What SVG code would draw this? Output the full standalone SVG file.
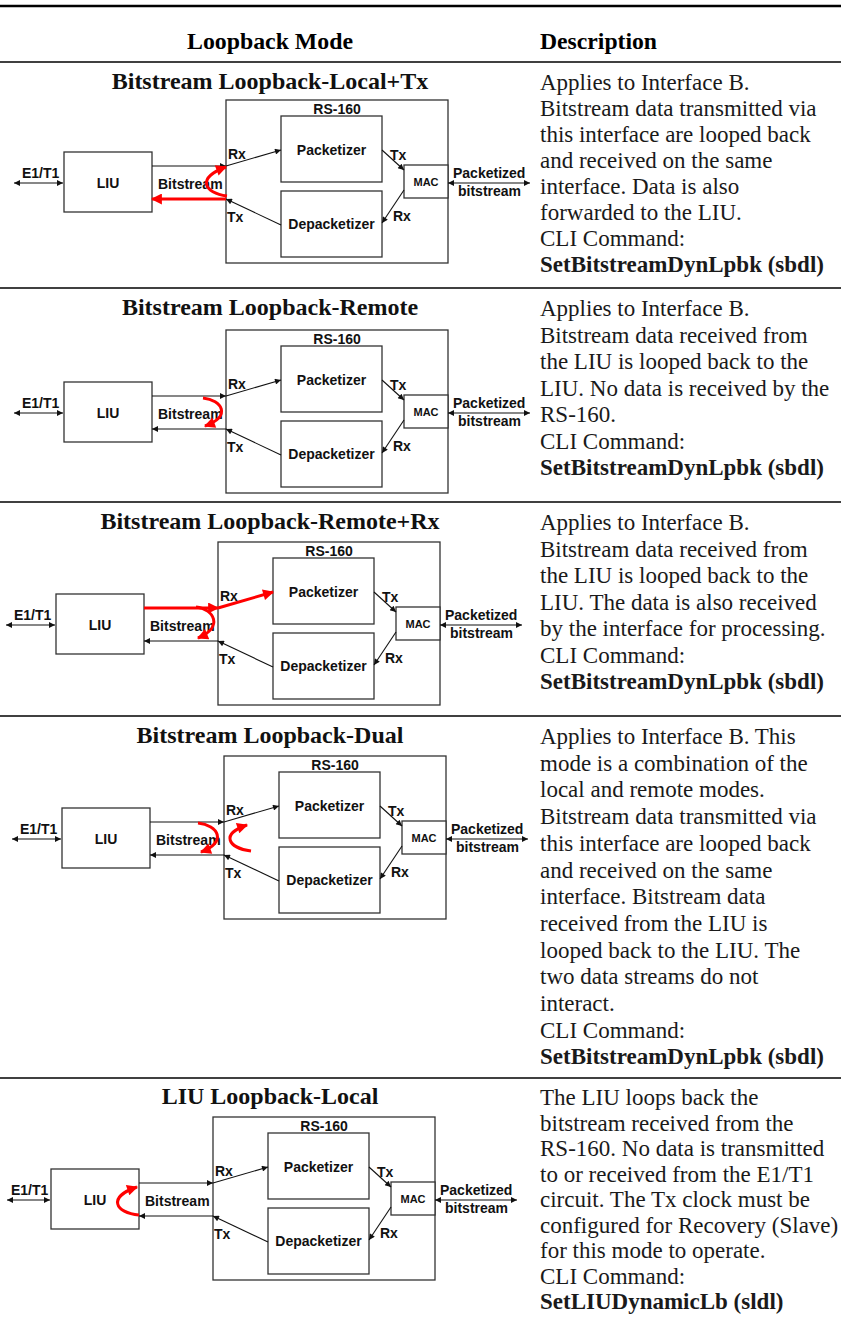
<svg xmlns="http://www.w3.org/2000/svg" width="841" height="1326" viewBox="0 0 841 1326">
<defs>
<style>
.rule{stroke:#000;stroke-width:1.5}
.rule-top{stroke:#000;stroke-width:2.5}
.hdr{font-family:"Liberation Serif","Times New Roman",serif;font-weight:bold;font-size:24px;fill:#000}
.ttl{font-family:"Liberation Serif","Times New Roman",serif;font-weight:bold;font-size:24px;fill:#111;text-anchor:middle}
.desc{font-family:"Liberation Serif","Times New Roman",serif;font-size:23px;fill:#1a1a1a}
.cmd{font-weight:bold}
.box{fill:#fff;stroke:#333;stroke-width:1.3}
.lbl{font-family:"Liberation Sans",Arial,sans-serif;font-weight:bold;font-size:14px;fill:#111}
.mid{text-anchor:middle}
.mac{font-size:11px}
.conn{stroke:#111;stroke-width:1.1;fill:none}
.red{stroke:#f00;stroke-width:3;fill:none}
</style>
<marker id="ah" viewBox="0 0 10 10" refX="10" refY="5" markerWidth="8" markerHeight="6" markerUnits="userSpaceOnUse" orient="auto-start-reverse"><path d="M0,0 L10,5 L0,10 z" fill="#111"/></marker>
<marker id="rah" viewBox="0 0 10 10" refX="9" refY="5" markerWidth="15" markerHeight="11" markerUnits="userSpaceOnUse" orient="auto"><path d="M0,0 L10,5 L0,10 z" fill="#f00"/></marker>
</defs>
<rect width="841" height="1326" fill="#fff"/>

<g id="table-rules">
<line class="rule-top" x1="0" y1="6" x2="841" y2="6"/>
<line class="rule" x1="0" y1="62" x2="841" y2="62"/>
<line class="rule" x1="0" y1="288" x2="841" y2="288"/>
<line class="rule" x1="0" y1="502" x2="841" y2="502"/>
<line class="rule" x1="0" y1="716" x2="841" y2="716"/>
<line class="rule" x1="0" y1="1078" x2="841" y2="1078"/>
</g>
<g id="header">
<text class="hdr" x="187" y="49" textLength="166" lengthAdjust="spacingAndGlyphs">Loopback Mode</text>
<text class="hdr" x="540" y="49" textLength="117" lengthAdjust="spacingAndGlyphs">Description</text>
</g>

<!-- Row 1 -->
<g id="row1">
<text class="ttl" x="270" y="89">Bitstream Loopback-Local+Tx</text>
<g id="row1-diagram">
 <g id="r1-liu"><rect class="box" x="64" y="152" width="88" height="60"/><text class="lbl mid" x="108" y="188">LIU</text></g>
 <g id="r1-rs160"><rect class="box" x="226" y="100" width="222" height="163"/><text class="lbl mid" x="337" y="114">RS-160</text></g>
 <g id="r1-packetizer"><rect class="box" x="281" y="116" width="101" height="66"/><text class="lbl mid" x="331.5" y="155">Packetizer</text></g>
 <g id="r1-depacketizer"><rect class="box" x="281" y="191" width="101" height="66"/><text class="lbl mid" x="331.5" y="229">Depacketizer</text></g>
 <g id="r1-mac"><rect class="box" x="404" y="165" width="44" height="33"/><text class="lbl mac mid" x="426" y="185.5">MAC</text></g>
 <g id="r1-connectors">
  <line class="conn" x1="14" y1="183" x2="63" y2="183" marker-start="url(#ah)" marker-end="url(#ah)"/>
  <text class="lbl" x="22" y="178">E1/T1</text>
  <line class="conn" x1="152" y1="166" x2="226" y2="166" marker-end="url(#ah)"/>
  <line class="conn" x1="226" y1="166" x2="281" y2="150" marker-end="url(#ah)"/>
  <line class="conn" x1="382" y1="150" x2="404" y2="170" marker-end="url(#ah)"/>
  <line class="conn" x1="404" y1="190" x2="382" y2="223" marker-end="url(#ah)"/>
  <line class="conn" x1="281" y1="225" x2="226" y2="199" marker-end="url(#ah)"/>
  <line class="conn" x1="448" y1="183" x2="530" y2="183" marker-start="url(#ah)" marker-end="url(#ah)"/>
  <text class="lbl" x="158" y="189">Bitstream</text>
  <text class="lbl" x="228" y="159">Rx</text>
  <text class="lbl" x="227" y="222">Tx</text>
  <text class="lbl" x="390" y="160">Tx</text>
  <text class="lbl" x="393" y="221">Rx</text>
  <text class="lbl" x="453" y="178">Packetized</text>
  <text class="lbl" x="458" y="195.5">bitstream</text>
  <line class="red" x1="226" y1="199" x2="152" y2="199" marker-end="url(#rah)"/>
  <path class="red" d="M227,196 C204,193 196,178 226,167" marker-end="url(#rah)"/>
 </g>
</g>
<text class="desc" x="540" y="90">Applies to Interface B.<tspan x="540" dy="26">Bitstream data transmitted via</tspan><tspan x="540" dy="26">this interface are looped back</tspan><tspan x="540" dy="26">and received on the same</tspan><tspan x="540" dy="26">interface. Data is also</tspan><tspan x="540" dy="26">forwarded to the LIU.</tspan><tspan x="540" dy="26">CLI Command:</tspan><tspan class="cmd" x="540" dy="26">SetBitstreamDynLpbk (sbdl)</tspan></text>
</g>

<!-- Row 2 -->
<g id="row2">
<text class="ttl" x="270" y="315">Bitstream Loopback-Remote</text>
<g id="row2-diagram" transform="translate(0,230)">
 <g id="r2-liu"><rect class="box" x="64" y="152" width="88" height="60"/><text class="lbl mid" x="108" y="188">LIU</text></g>
 <g id="r2-rs160"><rect class="box" x="226" y="100" width="222" height="163"/><text class="lbl mid" x="337" y="114">RS-160</text></g>
 <g id="r2-packetizer"><rect class="box" x="281" y="116" width="101" height="66"/><text class="lbl mid" x="331.5" y="155">Packetizer</text></g>
 <g id="r2-depacketizer"><rect class="box" x="281" y="191" width="101" height="66"/><text class="lbl mid" x="331.5" y="229">Depacketizer</text></g>
 <g id="r2-mac"><rect class="box" x="404" y="165" width="44" height="33"/><text class="lbl mac mid" x="426" y="185.5">MAC</text></g>
 <g id="r2-connectors">
  <line class="conn" x1="14" y1="183" x2="63" y2="183" marker-start="url(#ah)" marker-end="url(#ah)"/>
  <text class="lbl" x="22" y="178">E1/T1</text>
  <line class="conn" x1="152" y1="166" x2="226" y2="166" marker-end="url(#ah)"/>
  <line class="conn" x1="226" y1="166" x2="281" y2="150" marker-end="url(#ah)"/>
  <line class="conn" x1="382" y1="150" x2="404" y2="170" marker-end="url(#ah)"/>
  <line class="conn" x1="404" y1="190" x2="382" y2="223" marker-end="url(#ah)"/>
  <line class="conn" x1="281" y1="225" x2="226" y2="199" marker-end="url(#ah)"/>
  <line class="conn" x1="226" y1="199" x2="152" y2="199" marker-end="url(#ah)"/>
  <line class="conn" x1="448" y1="183" x2="530" y2="183" marker-start="url(#ah)" marker-end="url(#ah)"/>
  <text class="lbl" x="158" y="189">Bitstream</text>
  <text class="lbl" x="228" y="159">Rx</text>
  <text class="lbl" x="227" y="222">Tx</text>
  <text class="lbl" x="390" y="160">Tx</text>
  <text class="lbl" x="393" y="221">Rx</text>
  <text class="lbl" x="453" y="178">Packetized</text>
  <text class="lbl" x="458" y="195.5">bitstream</text>
  <path class="red" d="M203,168 C222,170 232,186 205,196" marker-end="url(#rah)"/>
 </g>
</g>
<text class="desc" x="540" y="316">Applies to Interface B.<tspan x="540" dy="26.5">Bitstream data received from</tspan><tspan x="540" dy="26.5">the LIU is looped back to the</tspan><tspan x="540" dy="26.5">LIU. No data is received by the</tspan><tspan x="540" dy="26.5">RS-160.</tspan><tspan x="540" dy="26.5">CLI Command:</tspan><tspan class="cmd" x="540" dy="26.5">SetBitstreamDynLpbk (sbdl)</tspan></text>
</g>

<!-- Row 3 -->
<g id="row3">
<text class="ttl" x="270" y="529">Bitstream Loopback-Remote+Rx</text>
<g id="row3-diagram" transform="translate(-8,442)">
 <g id="r3-liu"><rect class="box" x="64" y="152" width="88" height="60"/><text class="lbl mid" x="108" y="188">LIU</text></g>
 <g id="r3-rs160"><rect class="box" x="226" y="100" width="222" height="163"/><text class="lbl mid" x="337" y="114">RS-160</text></g>
 <g id="r3-packetizer"><rect class="box" x="281" y="116" width="101" height="66"/><text class="lbl mid" x="331.5" y="155">Packetizer</text></g>
 <g id="r3-depacketizer"><rect class="box" x="281" y="191" width="101" height="66"/><text class="lbl mid" x="331.5" y="229">Depacketizer</text></g>
 <g id="r3-mac"><rect class="box" x="404" y="165" width="44" height="33"/><text class="lbl mac mid" x="426" y="185.5">MAC</text></g>
 <g id="r3-connectors">
  <line class="conn" x1="14" y1="183" x2="63" y2="183" marker-start="url(#ah)" marker-end="url(#ah)"/>
  <text class="lbl" x="22" y="178">E1/T1</text>
  <line class="conn" x1="382" y1="150" x2="404" y2="170" marker-end="url(#ah)"/>
  <line class="conn" x1="404" y1="190" x2="382" y2="223" marker-end="url(#ah)"/>
  <line class="conn" x1="281" y1="225" x2="226" y2="199" marker-end="url(#ah)"/>
  <line class="conn" x1="226" y1="199" x2="152" y2="199" marker-end="url(#ah)"/>
  <line class="conn" x1="448" y1="183" x2="530" y2="183" marker-start="url(#ah)" marker-end="url(#ah)"/>
  <text class="lbl" x="158" y="189">Bitstream</text>
  <text class="lbl" x="228" y="159">Rx</text>
  <text class="lbl" x="227" y="222">Tx</text>
  <text class="lbl" x="390" y="160">Tx</text>
  <text class="lbl" x="393" y="221">Rx</text>
  <text class="lbl" x="453" y="178">Packetized</text>
  <text class="lbl" x="458" y="195.5">bitstream</text>
  <line class="red" x1="152" y1="166" x2="226" y2="166" marker-end="url(#rah)"/>
  <line class="red" x1="226" y1="166" x2="281" y2="150" marker-end="url(#rah)"/>
  <path class="red" d="M204,165 C222,167 232,185 206,196" marker-end="url(#rah)"/>
 </g>
</g>
<text class="desc" x="540" y="530">Applies to Interface B.<tspan x="540" dy="26.5">Bitstream data received from</tspan><tspan x="540" dy="26.5">the LIU is looped back to the</tspan><tspan x="540" dy="26.5">LIU. The data is also received</tspan><tspan x="540" dy="26.5">by the interface for processing.</tspan><tspan x="540" dy="26.5">CLI Command:</tspan><tspan class="cmd" x="540" dy="26.5">SetBitstreamDynLpbk (sbdl)</tspan></text>
</g>

<!-- Row 4 -->
<g id="row4">
<text class="ttl" x="270" y="743">Bitstream Loopback-Dual</text>
<g id="row4-diagram" transform="translate(-2,656)">
 <g id="r4-liu"><rect class="box" x="64" y="152" width="88" height="60"/><text class="lbl mid" x="108" y="188">LIU</text></g>
 <g id="r4-rs160"><rect class="box" x="226" y="100" width="222" height="163"/><text class="lbl mid" x="337" y="114">RS-160</text></g>
 <g id="r4-packetizer"><rect class="box" x="281" y="116" width="101" height="66"/><text class="lbl mid" x="331.5" y="155">Packetizer</text></g>
 <g id="r4-depacketizer"><rect class="box" x="281" y="191" width="101" height="66"/><text class="lbl mid" x="331.5" y="229">Depacketizer</text></g>
 <g id="r4-mac"><rect class="box" x="404" y="165" width="44" height="33"/><text class="lbl mac mid" x="426" y="185.5">MAC</text></g>
 <g id="r4-connectors">
  <line class="conn" x1="14" y1="183" x2="63" y2="183" marker-start="url(#ah)" marker-end="url(#ah)"/>
  <text class="lbl" x="22" y="178">E1/T1</text>
  <line class="conn" x1="152" y1="166" x2="226" y2="166" marker-end="url(#ah)"/>
  <line class="conn" x1="226" y1="166" x2="281" y2="150" marker-end="url(#ah)"/>
  <line class="conn" x1="382" y1="150" x2="404" y2="170" marker-end="url(#ah)"/>
  <line class="conn" x1="404" y1="190" x2="382" y2="223" marker-end="url(#ah)"/>
  <line class="conn" x1="281" y1="225" x2="226" y2="199" marker-end="url(#ah)"/>
  <line class="conn" x1="226" y1="199" x2="152" y2="199" marker-end="url(#ah)"/>
  <line class="conn" x1="448" y1="183" x2="530" y2="183" marker-start="url(#ah)" marker-end="url(#ah)"/>
  <text class="lbl" x="158" y="189">Bitstream</text>
  <text class="lbl" x="228" y="159">Rx</text>
  <text class="lbl" x="227" y="222">Tx</text>
  <text class="lbl" x="390" y="160">Tx</text>
  <text class="lbl" x="393" y="221">Rx</text>
  <text class="lbl" x="453" y="178">Packetized</text>
  <text class="lbl" x="458" y="195.5">bitstream</text>
  <path class="red" d="M200,167 C220,169 230,186 203,196" marker-end="url(#rah)"/>
  <path class="red" d="M253,195 C230,192 222,178 249,169" marker-end="url(#rah)"/>
 </g>
</g>
<text class="desc" x="540" y="744">Applies to Interface B. This<tspan x="540" dy="26.7">mode is a combination of the</tspan><tspan x="540" dy="26.7">local and remote modes.</tspan><tspan x="540" dy="26.7">Bitstream data transmitted via</tspan><tspan x="540" dy="26.7">this interface are looped back</tspan><tspan x="540" dy="26.7">and received on the same</tspan><tspan x="540" dy="26.7">interface. Bitstream data</tspan><tspan x="540" dy="26.7">received from the LIU is</tspan><tspan x="540" dy="26.7">looped back to the LIU. The</tspan><tspan x="540" dy="26.7">two data streams do not</tspan><tspan x="540" dy="26.7">interact.</tspan><tspan x="540" dy="26.7">CLI Command:</tspan><tspan class="cmd" x="540" dy="26.7">SetBitstreamDynLpbk (sbdl)</tspan></text>
</g>

<!-- Row 5 -->
<g id="row5">
<text class="ttl" x="270" y="1104">LIU Loopback-Local</text>
<g id="row5-diagram" transform="translate(-13,1017)">
 <g id="r5-liu"><rect class="box" x="64" y="152" width="88" height="60"/><text class="lbl mid" x="108" y="188">LIU</text></g>
 <g id="r5-rs160"><rect class="box" x="226" y="100" width="222" height="163"/><text class="lbl mid" x="337" y="114">RS-160</text></g>
 <g id="r5-packetizer"><rect class="box" x="281" y="116" width="101" height="66"/><text class="lbl mid" x="331.5" y="155">Packetizer</text></g>
 <g id="r5-depacketizer"><rect class="box" x="281" y="191" width="101" height="66"/><text class="lbl mid" x="331.5" y="229">Depacketizer</text></g>
 <g id="r5-mac"><rect class="box" x="404" y="165" width="44" height="33"/><text class="lbl mac mid" x="426" y="185.5">MAC</text></g>
 <g id="r5-connectors">
  <line class="conn" x1="20" y1="183" x2="63" y2="183" marker-start="url(#ah)" marker-end="url(#ah)"/>
  <text class="lbl" x="24" y="178">E1/T1</text>
  <line class="conn" x1="152" y1="166" x2="226" y2="166" marker-end="url(#ah)"/>
  <line class="conn" x1="226" y1="166" x2="281" y2="150" marker-end="url(#ah)"/>
  <line class="conn" x1="382" y1="150" x2="404" y2="170" marker-end="url(#ah)"/>
  <line class="conn" x1="404" y1="190" x2="382" y2="223" marker-end="url(#ah)"/>
  <line class="conn" x1="281" y1="225" x2="226" y2="199" marker-end="url(#ah)"/>
  <line class="conn" x1="226" y1="199" x2="152" y2="199" marker-end="url(#ah)"/>
  <line class="conn" x1="448" y1="183" x2="530" y2="183" marker-start="url(#ah)" marker-end="url(#ah)"/>
  <text class="lbl" x="158" y="189">Bitstream</text>
  <text class="lbl" x="228" y="159">Rx</text>
  <text class="lbl" x="227" y="222">Tx</text>
  <text class="lbl" x="390" y="160">Tx</text>
  <text class="lbl" x="393" y="221">Rx</text>
  <text class="lbl" x="453" y="178">Packetized</text>
  <text class="lbl" x="458" y="195.5">bitstream</text>
  <path class="red" d="M152,198 C128,196 120,180 150,170" marker-end="url(#rah)"/>
 </g>
</g>
<text class="desc" x="540" y="1105">The LIU loops back the<tspan x="540" dy="25.5">bitstream received from the</tspan><tspan x="540" dy="25.5">RS-160. No data is transmitted</tspan><tspan x="540" dy="25.5">to or received from the E1/T1</tspan><tspan x="540" dy="25.5">circuit. The Tx clock must be</tspan><tspan x="540" dy="25.5">configured for Recovery (Slave)</tspan><tspan x="540" dy="25.5">for this mode to operate.</tspan><tspan x="540" dy="25.5">CLI Command:</tspan><tspan class="cmd" x="540" dy="25.5">SetLIUDynamicLb (sldl)</tspan></text>
</g>
</svg>
